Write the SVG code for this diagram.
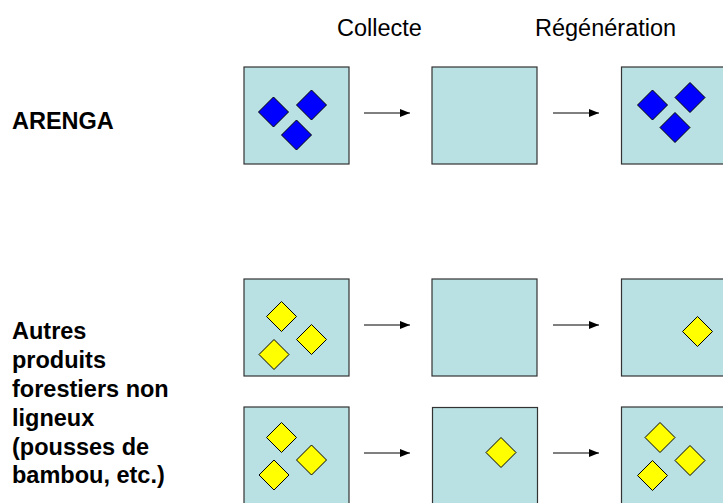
<svg xmlns="http://www.w3.org/2000/svg" width="723" height="503" viewBox="0 0 723 503">
<defs>
<style>
.box{fill:#B9E0E3;stroke:#333;stroke-width:1.2}
.blue{fill:#0000FF;stroke:#000;stroke-width:1}
.yel{fill:#FFFF00;stroke:#000;stroke-width:1}
.hdr{font-family:"Liberation Sans",Arial,sans-serif;font-size:23.5px;fill:#000}
.lbl{font-family:"Liberation Sans",Arial,sans-serif;font-size:23.5px;font-weight:bold;fill:#000}
.arr{stroke:#000;stroke-width:1;fill:none;marker-end:url(#ah)}
</style>
<marker id="ah" viewBox="0 0 10 8" refX="10" refY="4" markerWidth="10" markerHeight="8" markerUnits="userSpaceOnUse" orient="auto">
<path d="M0,0 L10,4 L0,8 Z" fill="#000"/>
</marker>
<path id="d" d="M0,-15 L15,0 L0,15 L-15,0 Z"/>
</defs>
<rect width="723" height="503" fill="#fff"/>
<g id="headers">
<text class="hdr" x="337" y="36">Collecte</text>
<text class="hdr" x="535" y="36">Régénération</text>
</g>
<g id="label-arenga"><text class="lbl" x="12" y="129">ARENGA</text></g>
<g id="label-autres"><text class="lbl" x="12" y="339">
<tspan x="12" y="339">Autres</tspan>
<tspan x="12" y="368">produits</tspan>
<tspan x="12" y="397">forestiers non</tspan>
<tspan x="12" y="426">ligneux</tspan>
<tspan x="12" y="455">(pousses de</tspan>
<tspan x="12" y="483">bambou, etc.)</tspan>
</text></g>
<g id="r1b1"><rect class="box" x="244" y="67" width="105" height="97"/>
<use href="#d" class="blue" x="273.5" y="112"/><use href="#d" class="blue" x="311.5" y="105"/><use href="#d" class="blue" x="296.5" y="135"/></g>
<g id="r1b2"><rect class="box" x="432" y="67" width="105" height="97"/></g>
<g id="r1b3"><rect class="box" x="621.5" y="67" width="105" height="97"/>
<use href="#d" class="blue" x="652.5" y="105"/><use href="#d" class="blue" x="690" y="97.5"/><use href="#d" class="blue" x="675" y="127.5"/></g>
<g id="r2b1"><rect class="box" x="244" y="279" width="105" height="97"/>
<use href="#d" class="yel" x="281.5" y="316.5"/><use href="#d" class="yel" x="311.5" y="339.5"/><use href="#d" class="yel" x="274" y="354.5"/></g>
<g id="r2b2"><rect class="box" x="432" y="279" width="105" height="97"/></g>
<g id="r2b3"><rect class="box" x="621.5" y="279" width="105" height="97"/>
<use href="#d" class="yel" x="697.5" y="331.5"/></g>
<g id="r3b1"><rect class="box" x="244" y="407" width="105" height="100"/>
<use href="#d" class="yel" x="281.5" y="437.5"/><use href="#d" class="yel" x="311.5" y="460"/><use href="#d" class="yel" x="274" y="475"/></g>
<g id="r3b2"><rect class="box" x="432.5" y="407.5" width="105" height="100"/>
<use href="#d" class="yel" x="501" y="452.5"/></g>
<g id="r3b3"><rect class="box" x="621.5" y="407" width="105" height="100"/>
<use href="#d" class="yel" x="660" y="437.5"/><use href="#d" class="yel" x="690" y="460.5"/><use href="#d" class="yel" x="652.5" y="475.5"/></g>
<g id="connectors">
<line class="arr" x1="364" y1="113" x2="410" y2="113"/>
<line class="arr" x1="553" y1="113" x2="599" y2="113"/>
<line class="arr" x1="364" y1="325" x2="410" y2="325"/>
<line class="arr" x1="553" y1="325" x2="599" y2="325"/>
<line class="arr" x1="364" y1="453" x2="410" y2="453"/>
<line class="arr" x1="553" y1="453" x2="599" y2="453"/>
</g>
</svg>
